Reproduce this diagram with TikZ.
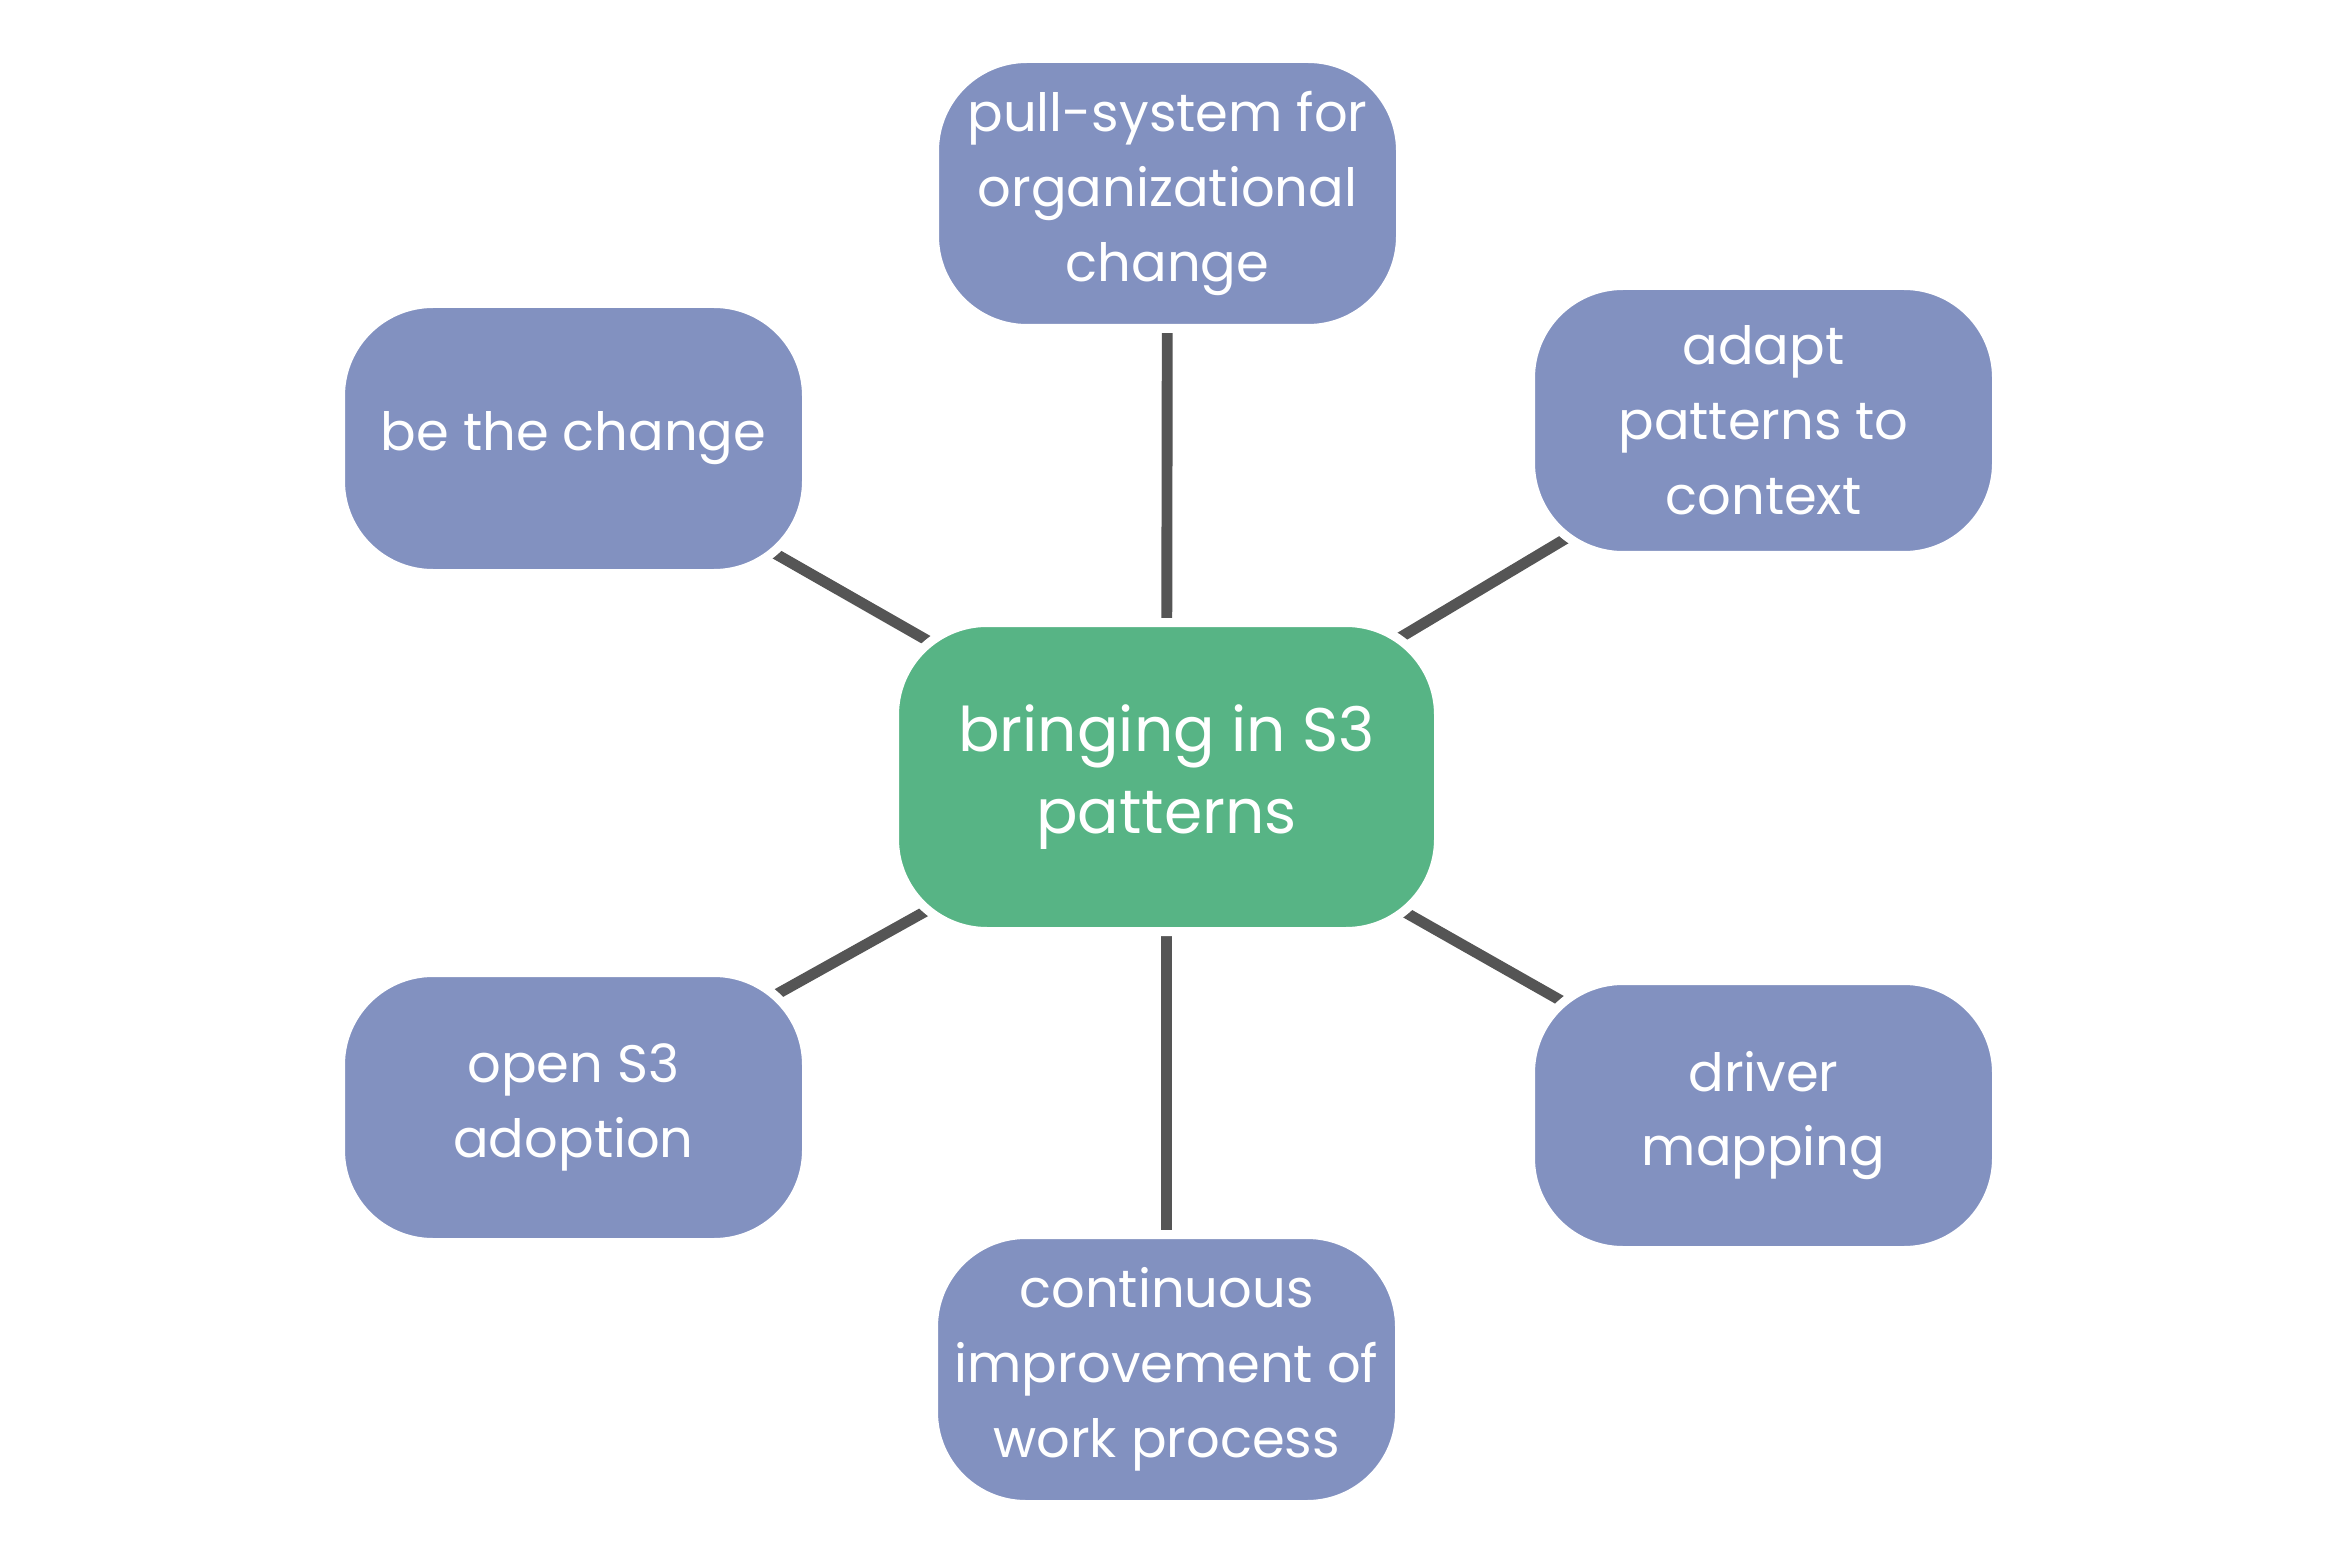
\documentclass[tikz,border=0pt]{standalone}
\usepackage{fontspec}
\setmainfont{Poppins}
\usetikzlibrary{backgrounds}

\definecolor{hubgreen}{RGB}{87,180,133}
\definecolor{leafblue}{RGB}{130,145,192}
\definecolor{linkgray}{RGB}{85,85,85}

\begin{document}
\begin{tikzpicture}[
    box/.style={rectangle, rounded corners=0.925cm, draw=white, line width=0.09cm,
        text=white, align=center, inner sep=0pt},
    leaf/.style={box, fill=leafblue, minimum width=4.66cm, minimum height=2.70cm,
        font=\fontsize{15}{21.3}\selectfont},
    hub/.style={box, fill=hubgreen, minimum width=5.44cm, minimum height=3.09cm,
        font=\fontsize{17.5}{23.4}\selectfont},
    link/.style={linkgray, line width=3.1pt}
]
        \useasboundingbox (0,0) rectangle (23.33,15.55);

        % Centre
        \node[hub] (patterns) at (11.665,7.78) {bringing in S3\\patterns};

        % Surrounding patterns
        \node[leaf] (pull) at (11.675,13.615) {pull-system for\\organizational\\change};
        \node[leaf] (change) at (5.735,11.165) {be the change};
        \node[leaf] (adapt) at (17.635,11.345) {adapt\\patterns to\\context};
        \node[leaf] (adoption) at (5.735,4.475) {open S3\\adoption};
        \node[leaf] (driver) at (17.635,4.395) {driver\\mapping};
        \node[leaf] (improve) at (11.665,1.855) {continuous\\improvement of\\work process};

        % Links to the centre
        \begin{scope}[on background layer]
        \draw[link] (patterns.center) -- (pull.center);
        \draw[link] (patterns.center) -- (change.center);
        \draw[link] (patterns.center) -- (adapt.center);
        \draw[link] (patterns.center) -- (adoption.center);
        \draw[link] (patterns.center) -- (driver.center);
        \draw[link] (patterns.center) -- (improve.center);
        \end{scope}
\end{tikzpicture}
\end{document}
